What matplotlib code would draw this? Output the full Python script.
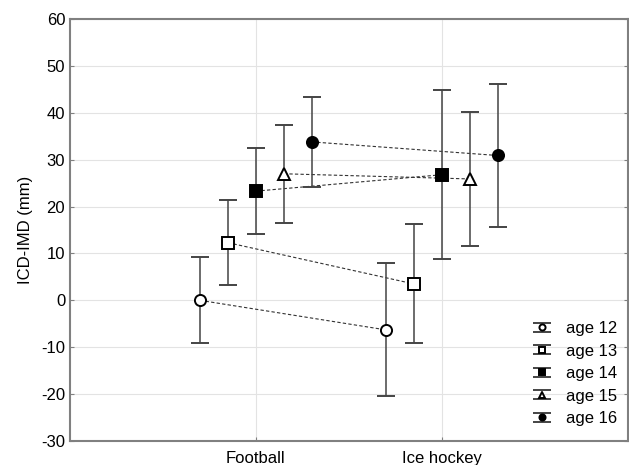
import numpy as np
import matplotlib.pyplot as plt
from matplotlib.legend_handler import HandlerErrorbar
from matplotlib.container import ErrorbarContainer

plt.rcParams['font.family'] = ['Liberation Sans', 'DejaVu Sans']
plt.rcParams['axes.unicode_minus'] = False

sports = ['Football', 'Ice hockey']
ages = ['age 12', 'age 13', 'age 14', 'age 15', 'age 16']
# means and +/- error for each age group, [Football, Ice hockey]
means = {
    'age 12': [0.0, -6.3],
    'age 13': [12.3, 3.5],
    'age 14': [23.3, 26.8],
    'age 15': [27.0, 25.9],
    'age 16': [33.8, 30.9],
}
errs = {
    'age 12': [9.2, 14.2],
    'age 13': [9.0, 12.7],
    'age 14': [9.2, 18.0],
    'age 15': [10.4, 14.2],
    'age 16': [9.6, 15.2],
}
offsets = [-0.3, -0.15, 0.0, 0.15, 0.3]
styles = [('o', 'white'), ('s', 'white'), ('s', 'black'), ('^', 'white'), ('o', 'black')]

fig = plt.figure(figsize=(6.29, 4.65), dpi=100)
ax = fig.add_axes([0.1113, 0.0516, 0.8867, 0.9074])

x = np.arange(len(sports))
for age, off, (mk, fc) in zip(ages, offsets, styles):
    xs = x + off
    ax.plot(xs, means[age], linestyle=(0, (3, 2)), color='#333333', lw=0.8, zorder=2)
    ax.errorbar(xs, means[age], yerr=errs[age], fmt=mk, mfc=fc, mec='black',
                mew=1.4, ms=8, ecolor='#444444', elinewidth=1.1,
                capsize=6.5, capthick=1.1, label=age, zorder=3)

ax.set_xlim(-1, 2)
ax.set_ylim(-30, 60)
ax.set_yticks(np.arange(-30, 61, 10))
ax.set_xticks(x)
ax.set_xticklabels(sports)
ax.set_ylabel('ICD-IMD (mm)', fontsize=12, labelpad=6)
ax.tick_params(labelsize=12, direction='in', length=3, color='#808080', right=True)
ax.tick_params(axis='x', pad=7)
ax.grid(True, color='#e3e3e3', lw=0.8)
ax.set_axisbelow(True)
for s in ax.spines.values():
    s.set_color('#808080')
    s.set_linewidth(1.5)

ax.legend(loc='lower right', frameon=False, fontsize=12, markerscale=0.55,
          handlelength=0.9, handletextpad=1.0, labelspacing=0.45,
          bbox_to_anchor=(1.008, 0.0),
          handler_map={ErrorbarContainer: HandlerErrorbar(yerr_size=0.28, xerr_size=0.3)})

fig.savefig('out.png', dpi=100)
